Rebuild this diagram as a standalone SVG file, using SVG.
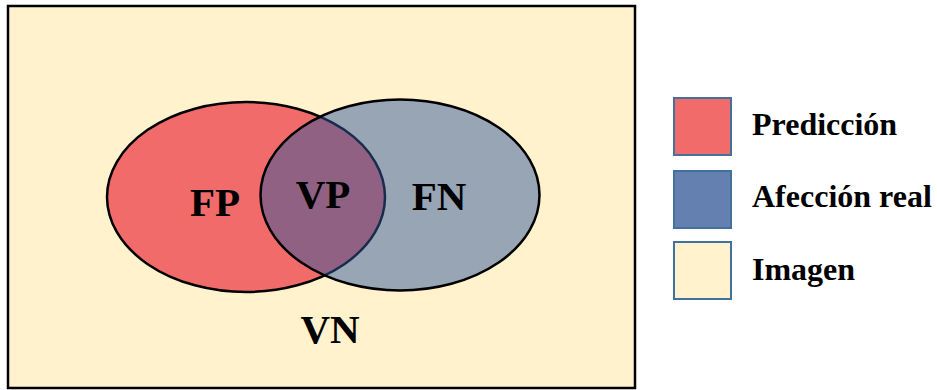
<svg xmlns="http://www.w3.org/2000/svg" width="937" height="390" viewBox="0 0 937 390">
<style>
.t{font-family:"Liberation Serif","Times New Roman",serif;font-weight:bold;fill:#000}
.big{font-size:41px}
.leg{font-size:32px}
.sw{stroke:#41719C;stroke-width:2}
</style>
<rect width="937" height="390" fill="#fff"/>
<g id="imagen">
<rect x="8" y="6" width="627" height="382" fill="#FFF2CC" stroke="#000" stroke-width="2.5"/>
<text class="t big" x="330" y="343" text-anchor="middle">VN</text>
</g>
<g id="prediccion">
<ellipse cx="246" cy="197" rx="139" ry="95" fill="#F26B6B" stroke="#000" stroke-width="2.5"/>
</g>
<g id="afeccion">
<ellipse cx="400" cy="195" rx="139.5" ry="95.5" fill="#2F589C" fill-opacity="0.5" stroke="#000" stroke-width="2.5"/>
</g>
<g id="labels">
<text class="t big" x="215" y="216" text-anchor="middle">FP</text>
<text class="t big" x="323" y="208" text-anchor="middle">VP</text>
<text class="t big" x="439" y="210" text-anchor="middle">FN</text>
</g>
<g id="legend">
<g id="leg-prediccion"><rect class="sw" x="674" y="98" width="57" height="57" fill="#F26B6B"/><text class="t leg" x="752" y="135">Predicción</text></g>
<g id="leg-afeccion"><rect class="sw" x="674" y="171" width="57" height="57" fill="#6380B0"/><text class="t leg" x="752" y="207">Afección real</text></g>
<g id="leg-imagen"><rect class="sw" x="674" y="242" width="57" height="57" fill="#FFF2CC"/><text class="t leg" x="752" y="280">Imagen</text></g>
</g>
<g id="connectors"/>
</svg>
